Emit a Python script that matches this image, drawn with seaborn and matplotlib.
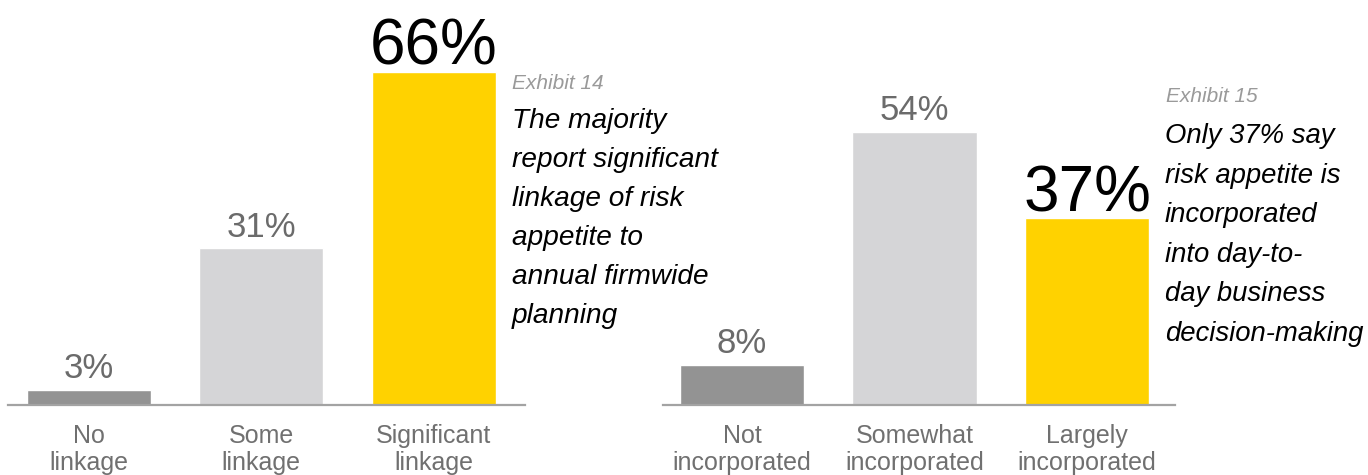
"""
Two side-by-side bar charts (Exhibits 14 and 15) on risk appetite linkage.
Saves out.png at 1368x475.
"""

import pandas as pd
import matplotlib.pyplot as plt
import seaborn as sns

# --- data ---
left_categories = ["No\nlinkage", "Some\nlinkage", "Significant\nlinkage"]
left_values = [3, 31, 66]

right_categories = ["Not\nincorporated", "Somewhat\nincorporated", "Largely\nincorporated"]
right_values = [8, 54, 37]

bar_colors = ["#939393", "#d5d5d7", "#ffd200"]
highlight_left = 2
highlight_right = 2

left_title = "Exhibit 14"
left_text = "The majority\nreport significant\nlinkage of risk\nappetite to\nannual firmwide\nplanning"
right_title = "Exhibit 15"
right_text = "Only 37% say\nrisk appetite is\nincorporated\ninto day-to-\nday business\ndecision-making"

W, H = 1368, 475

sns.set_style("white")
plt.rcParams["font.family"] = ["Liberation Sans", "DejaVu Sans"]

fig = plt.figure(figsize=(W / 100, H / 100), dpi=100)


def draw_panel(rect, categories, values, highlight, xlim):
    ax = fig.add_axes(rect)
    df = pd.DataFrame({"cat": categories, "val": values})
    sns.barplot(data=df, x="cat", y="val", hue="cat", palette=bar_colors,
                width=0.72, legend=False, ax=ax, saturation=1)
    ax.set_xlim(*xlim)
    ax.set_ylim(0, 80)
    ax.set_xlabel("")
    ax.set_ylabel("")
    ax.set_yticks([])
    for side in ["top", "left", "right"]:
        ax.spines[side].set_visible(False)
    ax.spines["bottom"].set_color("#a3a3a3")
    ax.spines["bottom"].set_linewidth(1.6)
    ax.tick_params(axis="x", length=0, pad=14, labelsize=18, labelcolor="#707070")
    for lbl in ax.get_xticklabels():
        lbl.set_linespacing(1.15)

    # value labels above bars
    for i, v in enumerate(values):
        if i == highlight:
            ax.annotate(f"{v}%", (i, v), xytext=(0, 5), textcoords="offset points",
                        ha="center", va="baseline", fontsize=46, color="black",
                        annotation_clip=False)
        else:
            ax.annotate(f"{v}%", (i, v), xytext=(0, 8.6), textcoords="offset points",
                        ha="center", va="baseline", fontsize=25, color="#6b6b6b",
                        annotation_clip=False)
    return ax


bottom = (H - 405) / H
height = 404 / H
draw_panel([8 / W, bottom, (525 - 8) / W, height],
           left_categories, left_values, highlight_left, (-0.47, 2.53))
draw_panel([663 / W, bottom, (1175 - 663) / W, height],
           right_categories, right_values, highlight_right, (-0.458, 2.51))

# --- side annotations ---
fig.text(512 / W, (H - 89) / H, left_title, fontsize=15, style="italic",
         color="#9a9a9a", va="baseline", ha="left")
fig.text(512 / W, (H - 108) / H, left_text, fontsize=20.2, style="italic",
         color="black", va="top", ha="left", linespacing=1.65)

fig.text(1166 / W, (H - 102) / H, right_title, fontsize=15, style="italic",
         color="#9a9a9a", va="baseline", ha="left")
fig.text(1165 / W, (H - 123) / H, right_text, fontsize=19.8, style="italic",
         color="black", va="top", ha="left", linespacing=1.68)

fig.savefig("out.png", dpi=100)
plt.close(fig)
